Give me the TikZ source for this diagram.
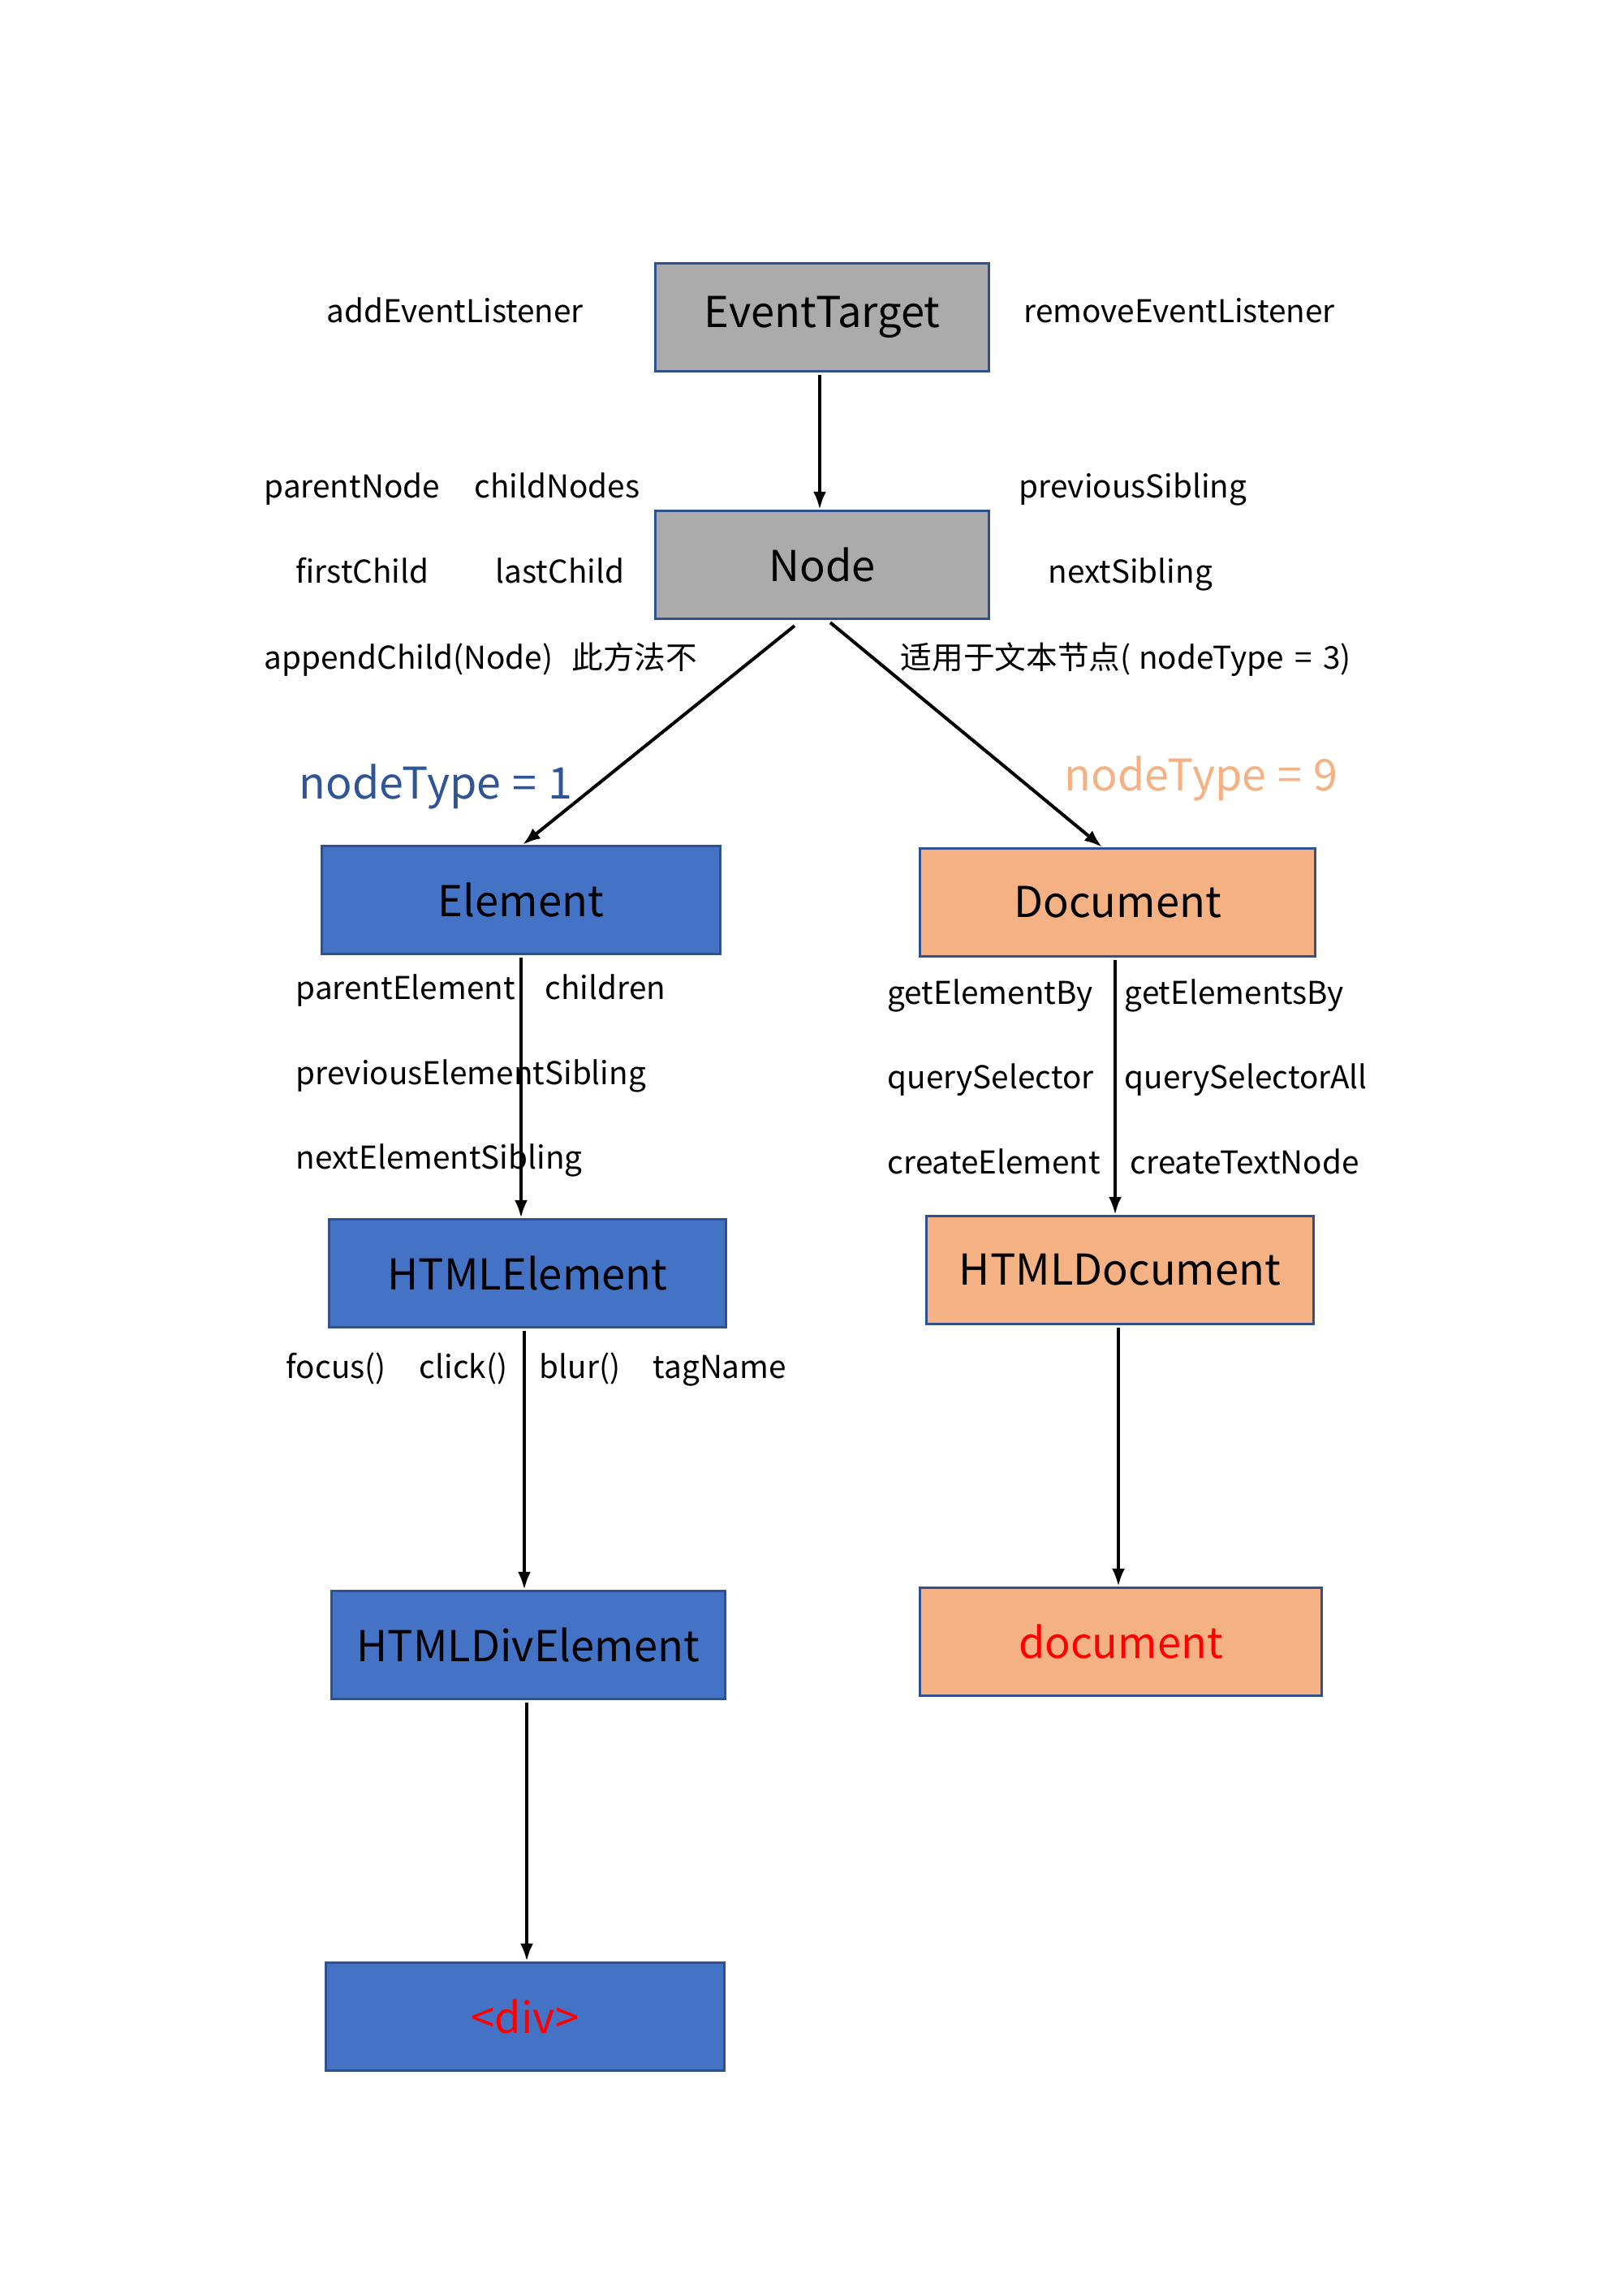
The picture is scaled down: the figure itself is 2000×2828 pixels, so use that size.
\documentclass[tikz,border=0pt]{standalone}
\usepackage{fontspec}
\setmainfont{Noto Sans CJK SC}
\usetikzlibrary{arrows.meta}
\definecolor{boxedge}{HTML}{2F528F}
\definecolor{greyfill}{HTML}{ABABAB}
\definecolor{bluefill}{HTML}{4472C4}
\definecolor{orangefill}{HTML}{F4B183}
\definecolor{typeblue}{HTML}{2F5597}
\definecolor{typeorange}{HTML}{F4B183}
\definecolor{tagred}{HTML}{FF0000}
\begin{document}
\begin{tikzpicture}[x=0.01cm,y=-0.01cm,
  box/.style={draw=boxedge,line width=0.9pt,inner sep=0pt,minimum height=1.33cm,
    font=\fontsize{14.9}{18}\selectfont},
  greybox/.style={box,fill=greyfill},
  bluebox/.style={box,fill=bluefill},
  orangebox/.style={box,fill=orangefill},
  lbl/.style={anchor=base west,inner sep=0pt,font=\fontsize{11}{13}\selectfont},
  typelbl/.style={anchor=base west,inner sep=0pt,font=\fontsize{15.3}{18}\selectfont},
  link/.style={line width=1.15pt,-{Latex[length=0.22cm,width=0.16cm]}}]
\useasboundingbox (0,0) rectangle (2000,2828);

% class boxes
\node[greybox,minimum width=4.11cm] (et) at (1013,391) {EventTarget};
\node[greybox,minimum width=4.11cm] (nd) at (1013,696) {Node};
\node[bluebox,minimum width=4.90cm] (el) at (642,1109) {Element};
\node[orangebox,minimum width=4.87cm] (doc) at (1377,1112) {Document};
\node[bluebox,minimum width=4.88cm] (hel) at (650,1569) {HTMLElement};
\node[orangebox,minimum width=4.77cm] (hdoc) at (1380,1565) {HTMLDocument};
\node[bluebox,minimum width=4.84cm] (hdiv) at (651,2027) {HTMLDivElement};
\node[orangebox,minimum width=4.94cm] (docobj) at (1381,2023) {\textcolor{tagred}{document}};
\node[bluebox,minimum width=4.91cm] (div) at (647,2485) {\textcolor{tagred}{<div>}};

% inheritance arrows
\draw[link] ([xshift=-0.03cm,yshift=-0.03cm]et.south) -- ([xshift=-0.03cm]et.south |- nd.north);
\draw[link] ([xshift=-0.34cm,yshift=-0.07cm]nd.south) -- ([xshift=0.02cm]el.north);
\draw[link] ([xshift=0.10cm,yshift=-0.03cm]nd.south) -- ([xshift=-0.19cm]doc.north);
\draw[link] ([yshift=-0.03cm]el.south) -- (el.south |- hel.north);
\draw[link] ([xshift=-0.03cm,yshift=-0.03cm]doc.south) -- ([xshift=-0.03cm]doc.south |- hdoc.north);
\draw[link] ([xshift=-0.04cm,yshift=-0.03cm]hel.south) -- ([xshift=-0.04cm]hel.south |- hdiv.north);
\draw[link] ([xshift=-0.02cm,yshift=-0.03cm]hdoc.south) -- ([xshift=-0.02cm]hdoc.south |- docobj.north);
\draw[link] ([xshift=-0.02cm,yshift=-0.03cm]hdiv.south) -- ([xshift=-0.02cm]hdiv.south |- div.north);

% EventTarget members
\node[lbl] (l1) at (402,398) {addEventListener};
\node[lbl] (l2) at (1261,398) {removeEventListener};

% Node members
\node[lbl] (l3) at (325,614) {parentNode};
\node[lbl] (l4) at (584,614) {childNodes};
\node[lbl] (l5) at (1255,614) {previousSibling};
\node[lbl] (l6) at (364,719) {firstChild};
\node[lbl] (l7) at (610,719) {lastChild};
\node[lbl] (l8) at (1291,719) {nextSibling};
\node[lbl] (l9) at (325,824) {appendChild(Node)\hspace{0.6em}此方法不};
\node[lbl] (l10) at (1109,824) {适用于文本节点(\hspace{0.25em}nodeType\hspace{0.35em}=\hspace{0.35em}3)};

% node types
\node[typelbl,text=typeblue] (t1) at (368,984) {nodeType\hspace{0.26em}=\hspace{0.26em}1};
\node[typelbl,text=typeorange] (t9) at (1311,974) {nodeType\hspace{0.26em}=\hspace{0.26em}9};

% Element members
\node[lbl] (l11) at (364,1231) {parentElement};
\node[lbl] (l12) at (671,1231) {children};
\node[lbl] (l13) at (364,1336) {previousElementSibling};
\node[lbl] (l14) at (364,1440) {nextElementSibling};

% Document members
\node[lbl] (l15) at (1093,1237) {getElementBy};
\node[lbl] (l16) at (1385,1237) {getElementsBy};
\node[lbl] (l17) at (1093,1341) {querySelector};
\node[lbl] (l18) at (1385,1341) {querySelectorAll};
\node[lbl] (l19) at (1093,1446) {createElement};
\node[lbl] (l20) at (1392,1446) {createTextNode};

% HTMLElement members
\node[lbl] (l21) at (352,1698) {focus()};
\node[lbl] (l22) at (516,1698) {click()};
\node[lbl] (l23) at (664,1698) {blur()};
\node[lbl] (l24) at (804,1698) {tagName};
\end{tikzpicture}
\end{document}
